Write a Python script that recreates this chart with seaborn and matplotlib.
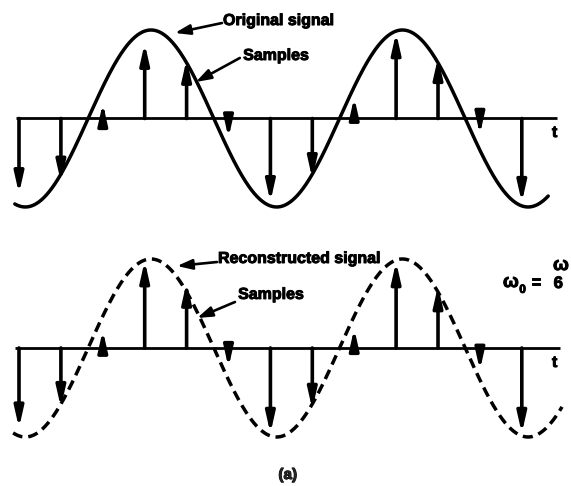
import numpy as np
import pandas as pd
import matplotlib
matplotlib.use("Agg")
import matplotlib.pyplot as plt
import matplotlib.patheffects as pe
import seaborn as sns

# Sample index (one sample every T)
sample_n = [0, 1, 2, 3, 4, 5, 6, 7, 8, 9, 10, 11, 12]
# Sampled values as drawn in the upper (original) and lower (reconstructed) panels
top_vals = [-0.85, -0.72, 0.17, 0.85, 0.67, -0.22, -0.94, -0.68, 0.24, 0.97, 0.69, -0.18, -0.95]
bottom_vals = [-0.90, -0.67, 0.20, 0.98, 0.74, -0.22, -0.96, -0.69, 0.22, 0.97, 0.70, -0.25, -0.96]

# Continuous sinusoid: six samples per cycle (omega_0 = omega_s / 6)
samples_per_cycle = 6.0
peak_at = 3.15
top_span = (-0.10, 12.63)
bottom_span = (-0.14, 12.96)

labels_top = ["Original signal", "Samples"]
labels_bottom = ["Reconstructed signal", "Samples"]

sns.set_theme(style="white")
plt.rcParams["font.family"] = ["Liberation Sans", "DejaVu Sans"]
plt.rcParams["font.weight"] = "bold"

INK = [pe.withStroke(linewidth=0.7, foreground="black")]

fig = plt.figure(figsize=(5.71, 4.86), dpi=100)
ax_top = fig.add_axes([0, 0.5165, 1, 0.4835])
ax_bot = fig.add_axes([0, 0.0, 1, 0.5165])

XLIM = (-0.4535, 13.174)
ax_top.set_xlim(*XLIM)
ax_top.set_ylim(-1.3164, 1.3390)
ax_bot.set_xlim(*XLIM)
ax_bot.set_ylim(-1.5506, 1.2697)
for ax in (ax_top, ax_bot):
    ax.set_axis_off()


def sinusoid(span):
    t = np.linspace(span[0], span[1], 600)
    return pd.DataFrame({"t": t, "x": np.cos(2 * np.pi * (t - peak_at) / samples_per_cycle)})


def draw_stems(ax, values):
    for n, v in zip(sample_n, values):
        ax.annotate("", xy=(n, v), xytext=(n, 0), xycoords="data",
                    arrowprops=dict(arrowstyle="-|>,head_length=1.2,head_width=0.27",
                                    mutation_scale=10, lw=2.6, color="black",
                                    shrinkA=0, shrinkB=0))


def label(ax, x, y, text, size=11.5):
    ax.text(x, y, text, fontsize=size, fontweight="bold", ha="left",
            va="baseline", color="black", path_effects=INK)


def pointer(ax, text, text_xy, start, tip):
    label(ax, text_xy[0], text_xy[1], text)
    ax.annotate("", xy=tip, xytext=start,
                arrowprops=dict(arrowstyle="-|>,head_length=0.9,head_width=0.3",
                                mutation_scale=10, lw=1.9, color="black",
                                shrinkA=0, shrinkB=0))


# --- upper panel: original signal and its samples ---
ax_top.plot([-0.072, 12.84], [0, 0], color="black", lw=2.0, solid_capstyle="butt")
sns.lineplot(data=sinusoid(top_span), x="t", y="x", ax=ax_top, color="black",
             lw=2.5, sort=False, estimator=None)
draw_stems(ax_top, top_vals)
pointer(ax_top, labels_top[0], (4.87, 1.056), (4.845, 1.079), (3.72, 0.966))
pointer(ax_top, labels_top[1], (5.35, 0.661), (5.27, 0.684), (4.22, 0.412))
label(ax_top, 12.72, -0.209, "t")

# --- lower panel: reconstructed signal (dashed) and the same samples ---
ax_bot.plot([-0.10, 12.91], [0, 0], color="black", lw=2.0, solid_capstyle="butt")
sns.lineplot(data=sinusoid(bottom_span), x="t", y="x", ax=ax_bot, color="black",
             lw=2.5, sort=False, estimator=None)
ax_bot.lines[-1].set_dashes([2.9, 1.7])
draw_stems(ax_bot, bottom_vals)
pointer(ax_bot, labels_bottom[0], (4.75, 0.955), (4.726, 0.966), (3.77, 0.921))
pointer(ax_bot, labels_bottom[1], (5.23, 0.551), (5.155, 0.517), (4.25, 0.337))
label(ax_bot, 12.72, -0.213, "t")

# omega_0 = omega_s / 6
label(ax_bot, 11.55, 0.685, "ω", size=13.5)
label(ax_bot, 11.94, 0.62, "0", size=8.5)
label(ax_bot, 12.22, 0.685, "=", size=12.5)
label(ax_bot, 12.745, 0.876, "ω", size=13.5)
label(ax_bot, 12.76, 0.674, "6", size=12)

fig.text(0.504, 0.0226, "(a)", fontsize=11, fontweight="bold", ha="center",
         va="center", path_effects=INK)

fig.savefig("out.png", dpi=100, facecolor="white")
